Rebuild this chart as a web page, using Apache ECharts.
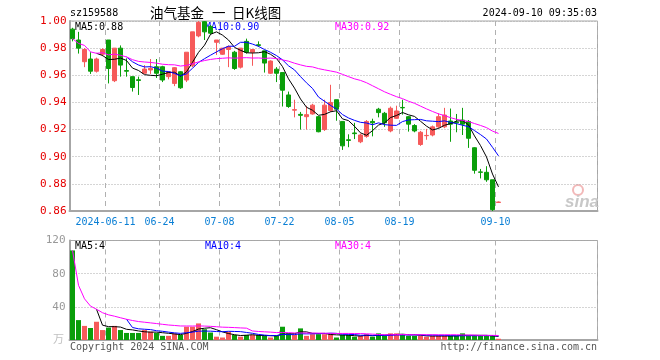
<!DOCTYPE html>
<html><head><meta charset="utf-8">
<script src="https://cdn.jsdelivr.net/npm/echarts@6/dist/echarts.min.js"></script>
<style>html,body{margin:0;padding:0;background:#fff}#c{width:660px;height:360px}</style>
</head><body><div id="c"></div>
<script>
const dates = ['05-31','06-03','06-04','06-05','06-06','06-07','06-11','06-12','06-13','06-14',
'06-17','06-18','06-19','06-20','06-21','06-24','06-25','06-26','06-27','06-28',
'07-01','07-02','07-03','07-04','07-05','07-08','07-09','07-10','07-11','07-12',
'07-15','07-16','07-17','07-18','07-19','07-22','07-23','07-24','07-25','07-26',
'07-29','07-30','07-31','08-01','08-02','08-05','08-06','08-07','08-08','08-09',
'08-12','08-13','08-14','08-15','08-16','08-19','08-20','08-21','08-22','08-23',
'08-26','08-27','08-28','08-29','08-30','09-02','09-03','09-04','09-05','09-06',
'09-09','09-10'];
const opens = [0.994,0.986,0.970,0.972,0.963,0.9755,0.986,0.956,0.980,0.9635,
0.959,0.9567,0.9615,0.9639,0.9663,0.9663,0.959,0.954,0.9626,0.9565,
0.967,0.989,0.9995,0.996,0.9843,0.9755,0.979,0.977,0.966,0.985,
0.977,0.9825,0.978,0.9615,0.9645,0.962,0.9455,0.9343,0.9312,0.9295,
0.9315,0.9295,0.920,0.934,0.942,0.926,0.9125,0.9175,0.911,0.915,
0.926,0.935,0.932,0.919,0.9283,0.9363,0.9295,0.923,0.909,0.9155,
0.916,0.922,0.922,0.9263,0.9255,0.927,0.926,0.9066,0.8888,0.8885,
0.883,0.8663];
const closes = [0.987,0.980,0.979,0.963,0.972,0.979,0.965,0.980,0.9675,0.963,
0.951,0.9562,0.9646,0.9651,0.9615,0.9565,0.9626,0.9656,0.9508,0.977,
0.992,0.999,0.992,0.991,0.986,0.980,0.981,0.965,0.980,0.977,
0.979,0.982,0.969,0.9705,0.9615,0.949,0.937,0.9347,0.9305,0.931,
0.938,0.9184,0.938,0.940,0.935,0.908,0.912,0.917,0.916,0.926,
0.925,0.9325,0.925,0.9357,0.9337,0.936,0.924,0.919,0.918,0.9157,
0.922,0.9295,0.9307,0.924,0.925,0.924,0.9136,0.890,0.8885,0.883,
0.861,0.8666];
const lows = [0.985,0.976,0.966,0.961,0.962,0.974,0.954,0.955,0.959,0.959,
0.948,0.9455,0.961,0.961,0.958,0.955,0.957,0.952,0.950,0.955,
0.966,0.988,0.986,0.990,0.975,0.975,0.966,0.964,0.965,0.976,
0.967,0.981,0.962,0.961,0.955,0.937,0.936,0.929,0.920,0.920,
0.931,0.918,0.919,0.933,0.9265,0.905,0.907,0.913,0.910,0.914,
0.915,0.929,0.922,0.918,0.928,0.931,0.9185,0.918,0.908,0.9125,
0.915,0.921,0.921,0.911,0.918,0.916,0.9065,0.8875,0.884,0.8815,
0.860,0.866];
const highs = [0.995,0.992,0.980,0.977,0.973,0.980,0.986,0.980,0.982,0.9725,
0.959,0.959,0.9675,0.972,0.972,0.967,0.963,0.966,0.963,0.977,
0.992,1.000,1.000,0.997,0.986,0.980,0.982,0.978,0.980,0.987,
0.979,0.985,0.978,0.971,0.966,0.962,0.948,0.942,0.933,0.9375,
0.939,0.930,0.942,0.953,0.942,0.926,0.9165,0.925,0.917,0.927,
0.928,0.936,0.933,0.937,0.9376,0.942,0.930,0.924,0.919,0.9205,
0.923,0.932,0.936,0.9355,0.9315,0.936,0.927,0.907,0.891,0.893,
0.883,0.867];
const volumes = [108,24,17,14.5,22,12,15,17,12,8.5,
8.5,8.5,12,10,8.5,5,5,8,6,16,
16,20,13,9,4,3,10,6,4,6,
6,6,5,3,5,16,8,6,14,5,
7,7,7,7,3,6,6,4,5,7,
4,8,5,8,8,6,5,5,5,4,
5,5,5,5,5,8,5,5,5,5,
5,1.5];
const tickIdx = [6,15,25,35,45,55,71];
const tickText = ['2024-06-11','06-24','07-08','07-22','08-05','08-19','09-10'];
const priceTicks = {min:0.86, max:1.00, step:0.02};
const volTicks = {min:0, max:120, step:40};
const legendPrice = ['MA5:0.88','MA10:0.90','MA30:0.92'];
const legendVol = ['MA5:4','MA10:4','MA30:4'];
const titleParts = ['油气基金', '一', '日K线图'];

const RED = '#f65a5a', GREEN = '#0a9e0a';
const MONO = 'DejaVu Sans Mono';
const SLOTS = 88;
const cats = dates.concat(Array.from({length: SLOTS - dates.length}, (_, k) => 'p' + k));

function ma(arr, n, cumul) {
  return arr.map((v, i) => {
    if (i < n - 1) {
      if (!cumul) return '-';
      let s = 0; for (let j = 0; j <= i; j++) s += arr[j];
      return +(s / (i + 1)).toFixed(5);
    }
    let s = 0; for (let j = i - n + 1; j <= i; j++) s += arr[j];
    return +(s / n).toFixed(5);
  });
}

const isTick = (idx) => tickIdx.indexOf(idx) >= 0;

function xAxisCfg(gi, showLabel) {
  return {
    type: 'category', gridIndex: gi, data: cats, boundaryGap: true,
    axisLine: {show: true, lineStyle: {color: '#a6a6a6', width: 2}},
    axisTick: {show: false},
    axisLabel: showLabel ? {
      show: true, interval: (idx) => isTick(idx),
      formatter: (v, idx) => { const k = tickIdx.indexOf(idx); return k >= 0 ? tickText[k] : ''; },
      color: '#0a7fd5', fontFamily: MONO, fontSize: 10, margin: 6, padding: [0, 6, 0, 0]
    } : {show: false},
    splitLine: {show: true, interval: (idx) => isTick(idx),
      lineStyle: {color: '#b0b0b0', type: [5, 4], width: 1}}
  };
}

const chart = echarts.init(document.getElementById('c'), null, {renderer: 'canvas'});
const candleData = dates.map((d, i) => [opens[i], closes[i], lows[i], highs[i]]);
const volData = volumes.map((v, i) => ({value: v, itemStyle: {color: closes[i] >= opens[i] ? RED : GREEN}}));

const txt = (x, y, s, color, align) => ({
  type: 'text', x: x, y: y, silent: true,
  style: {text: s, fill: color, font: '10px "' + MONO + '"', textAlign: align || 'left', textVerticalAlign: 'middle'}
});
const cjk = (x, y, s) => ({
  type: 'text', x: x, y: y, silent: true,
  style: {text: s, fill: '#000', font: '13.5px "Noto Sans CJK SC"', textAlign: 'left', textVerticalAlign: 'middle'}
});

chart.setOption({
  animation: false,
  backgroundColor: '#fff',
  grid: [
    {left: 69.5, top: 21, width: 528, height: 190, show: true, borderColor: '#a6a6a6', borderWidth: 1},
    {left: 69.5, top: 240.5, width: 528, height: 99.5, show: true, borderColor: '#a6a6a6', borderWidth: 1}
  ],
  xAxis: [xAxisCfg(0, true), xAxisCfg(1, false)],
  yAxis: [
    {type: 'value', gridIndex: 0, min: priceTicks.min, max: priceTicks.max, interval: priceTicks.step,
     axisLine: {show: true, lineStyle: {color: '#a6a6a6', width: 2}}, axisTick: {show: false},
     axisLabel: {color: '#e60000', fontFamily: MONO, fontSize: 11, margin: 3, formatter: (v) => v.toFixed(2)},
     splitLine: {show: true, lineStyle: {color: '#aaaaaa', type: [1, 2], width: 1}}},
    {type: 'value', gridIndex: 1, min: volTicks.min, max: volTicks.max, interval: volTicks.step,
     axisLine: {show: true, lineStyle: {color: '#a6a6a6', width: 2}}, axisTick: {show: false},
     axisLabel: {color: '#999999', fontFamily: MONO, fontSize: 11, margin: 4, formatter: (v) => v === 0 ? '' : String(v)},
     splitLine: {show: true, lineStyle: {color: '#aaaaaa', type: [1, 2], width: 1}}}
  ],
  series: [
    {type: 'candlestick', xAxisIndex: 0, yAxisIndex: 0, data: candleData, barWidth: 5,
     itemStyle: {color: RED, color0: GREEN, borderColor: RED, borderColor0: GREEN, borderWidth: 1}},
    {type: 'line', xAxisIndex: 0, yAxisIndex: 0, data: ma(closes, 5), showSymbol: false, lineStyle: {color: '#000', width: 1}},
    {type: 'line', xAxisIndex: 0, yAxisIndex: 0, data: ma(closes, 10), showSymbol: false, lineStyle: {color: '#0000ff', width: 1}},
    {type: 'line', xAxisIndex: 0, yAxisIndex: 0, data: ma(closes, 30, true), showSymbol: false, lineStyle: {color: '#ff00ff', width: 1}},
    {type: 'bar', xAxisIndex: 1, yAxisIndex: 1, data: volData, barWidth: 5},
    {type: 'line', xAxisIndex: 1, yAxisIndex: 1, data: ma(volumes, 5), showSymbol: false, lineStyle: {color: '#000', width: 1}},
    {type: 'line', xAxisIndex: 1, yAxisIndex: 1, data: ma(volumes, 10), showSymbol: false, lineStyle: {color: '#0000ff', width: 1}},
    {type: 'line', xAxisIndex: 1, yAxisIndex: 1, data: ma(volumes, 30, true), showSymbol: false, lineStyle: {color: '#ff00ff', width: 1}}
  ],
  graphic: [
    txt(70, 13, 'sz159588', '#000'),
    cjk(150, 13, titleParts[0]),
    cjk(212, 13, titleParts[1]),
    cjk(232, 13, titleParts[2]),
    txt(597, 13, '2024-09-10 09:35:03', '#000', 'right'),
    txt(75, 27, legendPrice[0], '#000'),
    txt(205, 27, legendPrice[1], '#0000ff'),
    txt(335, 27, legendPrice[2], '#ff00ff'),
    txt(75, 246.5, legendVol[0], '#000'),
    txt(205, 246.5, legendVol[1], '#0000ff'),
    txt(335, 246.5, legendVol[2], '#ff00ff'),
    txt(70, 347, 'Copyright 2024 SINA.COM', '#555'),
    txt(597, 347, 'http://finance.sina.com.cn', '#555', 'right'),
    {type: 'text', x: 64, y: 339, silent: true, style: {text: '万', fill: '#c0c0c0',
      font: '11px "Noto Sans CJK SC"', textAlign: 'right', textVerticalAlign: 'middle'}},
    {type: 'circle', shape: {cx: 578, cy: 190, r: 5}, silent: true, style: {fill: 'none', stroke: '#f2b8b8', lineWidth: 2}},
    {type: 'text', x: 582, y: 202, silent: true, style: {text: 'sina', fill: '#c8c8c8',
      font: 'italic bold 17px "Liberation Sans"', textAlign: 'center', textVerticalAlign: 'middle'}}
  ]
});
</script></body></html>
